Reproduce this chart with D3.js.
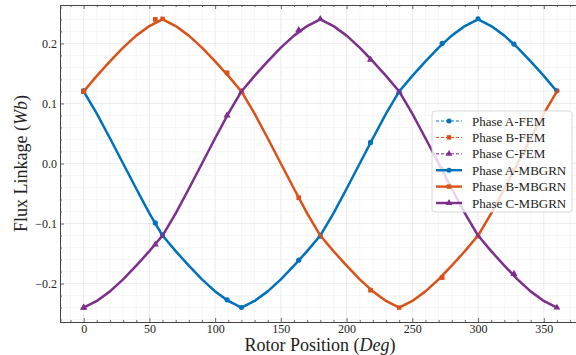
<!DOCTYPE html>
<html>
<head>
<meta charset="utf-8">
<script src="https://cdn.jsdelivr.net/npm/d3@7"></script>
<style>
  body { margin: 0; background: #fff; }
  svg { display: block; font-family: "Liberation Serif", "DejaVu Serif", serif; }
</style>
</head>
<body>
<div id="chart"></div>
<script>
// rotor angle in degrees, 10 deg steps
const angles = [0,10,20,30,40,50,60,70,80,90,100,110,120,130,140,150,160,170,180,
  190,200,210,220,230,240,250,260,270,280,290,300,310,320,330,340,350,360];

// MBGRN flux linkage (Wb)
const phaseA_mbgrn = [0.120,0.083,0.042,0.000,-0.042,-0.083,-0.120,-0.146,-0.170,-0.193,-0.213,-0.229,-0.240,
  -0.229,-0.213,-0.193,-0.170,-0.146,-0.120,-0.083,-0.042,0.000,0.042,0.083,0.120,0.146,0.170,0.193,0.213,
  0.229,0.240,0.229,0.213,0.193,0.170,0.146,0.120];
const phaseB_mbgrn = [0.120,0.146,0.170,0.193,0.213,0.229,0.240,0.229,0.213,0.193,0.170,0.146,0.120,
  0.083,0.042,0.000,-0.042,-0.083,-0.120,-0.146,-0.170,-0.193,-0.213,-0.229,-0.240,-0.229,-0.213,-0.193,
  -0.170,-0.146,-0.120,-0.083,-0.042,0.000,0.042,0.083,0.120];
const phaseC_mbgrn = [-0.240,-0.229,-0.213,-0.193,-0.170,-0.146,-0.120,-0.083,-0.042,0.000,0.042,0.083,0.120,
  0.146,0.170,0.193,0.213,0.229,0.240,0.229,0.213,0.193,0.170,0.146,0.120,0.083,0.042,0.000,-0.042,
  -0.083,-0.120,-0.146,-0.170,-0.193,-0.213,-0.229,-0.240];

// FEM flux linkage (Wb)
const phaseA_fem = [0.121,0.084,0.043,0.001,-0.041,-0.082,-0.119,-0.147,-0.171,-0.194,-0.214,-0.230,-0.240,
  -0.230,-0.214,-0.194,-0.171,-0.147,-0.121,-0.084,-0.043,-0.001,0.041,0.082,0.119,0.147,0.171,0.194,0.214,
  0.230,0.241,0.230,0.214,0.194,0.171,0.147,0.121];
const phaseB_fem = [0.121,0.147,0.171,0.194,0.214,0.230,0.241,0.230,0.214,0.194,0.171,0.147,0.121,
  0.084,0.043,0.001,-0.041,-0.082,-0.119,-0.147,-0.171,-0.194,-0.214,-0.230,-0.240,-0.230,-0.214,-0.194,
  -0.171,-0.147,-0.121,-0.084,-0.043,-0.001,0.041,0.082,0.121];
const phaseC_fem = [-0.240,-0.230,-0.214,-0.194,-0.171,-0.147,-0.121,-0.084,-0.043,-0.001,0.041,0.082,0.119,
  0.147,0.171,0.194,0.214,0.230,0.241,0.230,0.214,0.194,0.171,0.147,0.119,0.082,0.041,0.000,-0.041,
  -0.082,-0.121,-0.147,-0.171,-0.194,-0.214,-0.230,-0.240];

// marker positions of the MBGRN curves
const markAngles = [0, 54.5, 109.1, 163.6, 218.2, 272.7, 327.3];
const markA = [0.120, -0.099, -0.227, -0.161, 0.035, 0.200, 0.199];
const markB = [0.120, 0.240, 0.151, -0.057, -0.211, -0.190, -0.011];
const markC = [-0.240, -0.135, 0.080, 0.222, 0.173, -0.011, -0.184];

const xTicks = [0, 50, 100, 150, 200, 250, 300, 350];
const yTicks = [-0.2, -0.1, 0.0, 0.1, 0.2];

const colors = {A: "#0072BD", B: "#D95319", C: "#7E2F8E"};

const width = 576, height = 355;
const svg = d3.select("#chart").append("svg")
    .attr("width", width).attr("height", height);

const x = d3.scaleLinear().domain([-18, 378]).range([60, 580.6]);
const y = d3.scaleLinear().domain([-0.264, 0.264]).range([322, 5]);

// grid
const grid = svg.append("g");
grid.selectAll(".gxm").data(d3.range(-10, 380, 10))
  .enter().append("line")
    .attr("x1", d => x(d)).attr("x2", d => x(d))
    .attr("y1", y.range()[0]).attr("y2", y.range()[1])
    .attr("stroke", d => d % 50 === 0 ? "#e2e2e2" : "#f2f2f2")
    .attr("stroke-width", 0.7);
grid.selectAll(".gym").data(d3.range(-26, 27, 2).map(v => v / 100))
  .enter().append("line")
    .attr("x1", x.range()[0]).attr("x2", x.range()[1])
    .attr("y1", d => y(d)).attr("y2", d => y(d))
    .attr("stroke", d => Math.abs(Math.round(d * 100)) % 10 === 0 ? "#e2e2e2" : "#f2f2f2")
    .attr("stroke-width", 0.7);

// axes, ticks pointing in on all four sides
const xMinor = d3.range(-10, 380, 10).filter(v => v % 50 !== 0);
const yMinor = d3.range(-26, 27, 2).filter(v => v % 10 !== 0).map(v => v / 100);

function addAxis(axis, transform, labels) {
  const g = svg.append("g").attr("transform", transform).call(axis);
  g.select(".domain").attr("stroke", "#444").attr("stroke-width", 1);
  g.selectAll(".tick line").attr("stroke", "#444").attr("stroke-width", 0.8);
  if (labels) g.selectAll("text").attr("font-size", 12).attr("fill", "#222")
      .attr("font-family", "Liberation Serif");
  return g;
}
addAxis(d3.axisBottom(x).tickValues(xMinor).tickSize(-2).tickFormat(""), "translate(0,322)");
addAxis(d3.axisTop(x).tickValues(xMinor).tickSize(-2).tickFormat(""), "translate(0,5)");
addAxis(d3.axisLeft(y).tickValues(yMinor).tickSize(-2).tickFormat(""), "translate(60,0)");
addAxis(d3.axisBottom(x).tickValues(xTicks).tickSize(-4).tickPadding(2).tickFormat(d3.format("d")), "translate(0,322)", true);
addAxis(d3.axisTop(x).tickValues(xTicks).tickSize(-4).tickFormat(""), "translate(0,5)");
addAxis(d3.axisLeft(y).tickValues(yTicks).tickSize(-4).tickPadding(3).tickFormat(d3.format(".1f")), "translate(60,0)", true);

const line = d3.line().x(d => x(d[0])).y(d => y(d[1]));

const sym = {A: d3.symbolCircle, B: d3.symbolSquare, C: d3.symbolTriangle};

const fem = [["A", phaseA_fem], ["B", phaseB_fem], ["C", phaseC_fem]];
const mbgrn = [["A", phaseA_mbgrn, markA], ["B", phaseB_mbgrn, markB], ["C", phaseC_mbgrn, markC]];

// FEM: thin dashed lines, markers every 60 deg
fem.forEach(([k, vals]) => {
  const pts = angles.map((a, i) => [a, vals[i]]);
  svg.append("path").datum(pts)
    .attr("d", line).attr("fill", "none")
    .attr("stroke", colors[k]).attr("stroke-width", 1)
    .attr("stroke-dasharray", "4,2");
  svg.append("g").selectAll("path")
    .data(pts.filter((p, i) => i % 6 === 0))
    .enter().append("path")
      .attr("transform", d => `translate(${x(d[0])},${y(d[1])})`)
      .attr("d", d3.symbol().type(sym[k]).size(20))
      .attr("fill", colors[k]);
});

// MBGRN: solid lines
mbgrn.forEach(([k, vals, marks]) => {
  const pts = angles.map((a, i) => [a, vals[i]]);
  svg.append("path").datum(pts)
    .attr("d", line).attr("fill", "none")
    .attr("stroke", colors[k]).attr("stroke-width", 2.5)
    .attr("stroke-linejoin", "round");
  svg.append("g").selectAll("path")
    .data(markAngles.map((a, i) => [a, marks[i]]))
    .enter().append("path")
      .attr("transform", d => `translate(${x(d[0])},${y(d[1])})`)
      .attr("d", d3.symbol().type(sym[k]).size(22))
      .attr("fill", colors[k]);
});

// legend
const legendItems = [
  {label: "Phase A-FEM", k: "A", dash: true},
  {label: "Phase B-FEM", k: "B", dash: true},
  {label: "Phase C-FEM", k: "C", dash: true},
  {label: "Phase A-MBGRN", k: "A", dash: false},
  {label: "Phase B-MBGRN", k: "B", dash: false},
  {label: "Phase C-MBGRN", k: "C", dash: false}
];
const lg = svg.append("g").attr("transform", "translate(432,111)");
lg.append("rect").attr("width", 140).attr("height", 101).attr("rx", 3)
  .attr("fill", "#fff").attr("fill-opacity", 0.8)
  .attr("stroke", "#d0d0d0").attr("stroke-width", 0.8);
const row = lg.selectAll(".row").data(legendItems).enter().append("g")
  .attr("transform", (d, i) => `translate(0,${10 + i * 16.4})`);
row.append("line").attr("x1", 4).attr("x2", 30)
  .attr("stroke", d => colors[d.k])
  .attr("stroke-width", d => d.dash ? 1 : 2.4)
  .attr("stroke-dasharray", d => d.dash ? "3,2" : null);
row.append("path").attr("transform", "translate(17,0)")
  .attr("d", d => d3.symbol().type(sym[d.k]).size(20)())
  .attr("fill", d => colors[d.k]);
row.append("text").attr("x", 40).attr("y", 4.5)
  .attr("font-size", 13).attr("fill", "#222").text(d => d.label);

// axis titles
const xl = svg.append("text").attr("x", 320).attr("y", 351)
  .attr("text-anchor", "middle").attr("font-size", 18).attr("fill", "#222");
xl.append("tspan").text("Rotor Position (");
xl.append("tspan").attr("font-style", "italic").text("Deg");
xl.append("tspan").text(")");

const yl = svg.append("text").attr("transform", "translate(27,163.5) rotate(-90)")
  .attr("text-anchor", "middle").attr("font-size", 18).attr("fill", "#222");
yl.append("tspan").text("Flux Linkage (");
yl.append("tspan").attr("font-style", "italic").text("Wb");
yl.append("tspan").text(")");
</script>
</body>
</html>
